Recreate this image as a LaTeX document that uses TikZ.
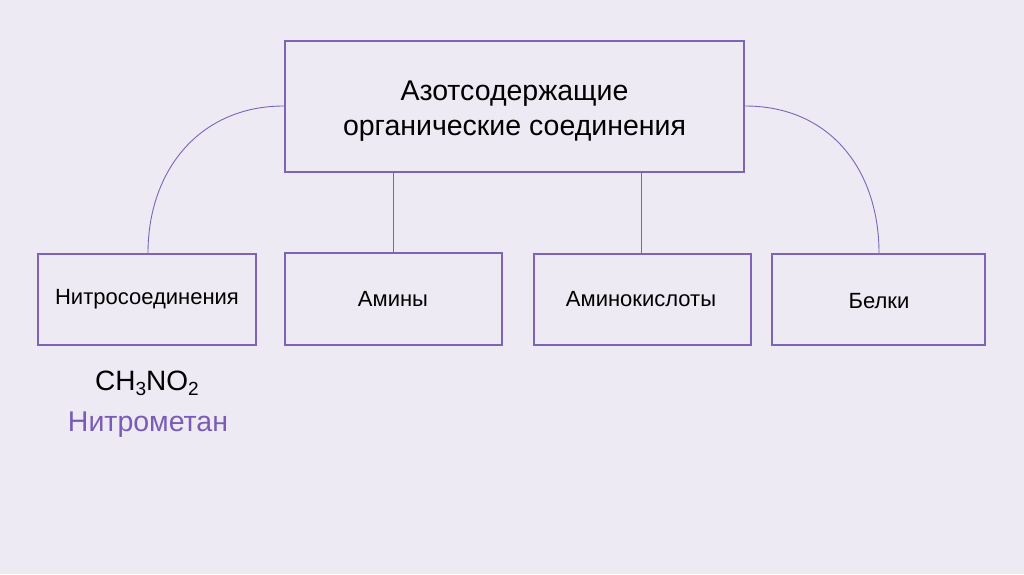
\documentclass[tikz,border=0pt]{standalone}
\usepackage{fontspec}
\setmainfont{Liberation Sans}
\definecolor{bg}{RGB}{237,234,243}
\definecolor{frame}{RGB}{125,100,182}
\definecolor{violettext}{RGB}{122,92,182}
\newcommand{\subnum}[1]{\raisebox{-5pt}{\fontsize{19}{19}\selectfont #1}}
\begin{document}
\begin{tikzpicture}[x=1pt,y=-1pt,
  box/.style={draw=frame,line width=2.4pt,fill=none,inner sep=0pt,align=center},
  lbl/.style={font=\fontsize{22}{26}\selectfont},
  link/.style={draw=frame,line width=0.9pt}]
\fill[bg] (0,0) rectangle (1024,574);
\useasboundingbox (0,0) rectangle (1024,574);
\node[box,minimum width=459pt,minimum height=131pt] (top) at (514.5,106.5) {};
\node[font=\fontsize{28.5}{35}\selectfont,align=center] (toptext) at (514.5,111) {Азотсодержащие\\органические соединения};
\node[box,minimum width=218pt,minimum height=91pt] (nitro) at (147,299.5) {};
\node[box,minimum width=217pt,minimum height=92pt] (amin) at (393.5,299) {};
\node[box,minimum width=217pt,minimum height=91pt] (amk) at (642.5,299.5) {};
\node[box,minimum width=213pt,minimum height=91pt] (belk) at (878.5,299.5) {};
\node[lbl] (t1) at (147,299) {Нитросоединения};
\node[lbl] (t2) at (393,299) {Амины};
\node[lbl] (t3) at (641,299) {Аминокислоты};
\node[lbl] (t4) at (879,301) {Белки};
\node[font=\fontsize{28}{30}\selectfont] (formula) at (147,383) {CH\subnum{3}NO\subnum{2}};
\node[font=\fontsize{28.5}{30}\selectfont,text=violettext] (name) at (148,425) {Нитрометан};
\coordinate (lA) at (top.west |- 0,106);
\coordinate (rA) at (top.east |- 0,106);
\coordinate (lB) at (148,253);
\coordinate (rB) at (879,253);
\draw[link] (lA) .. controls (200,106) and (148,170) .. (lB);
\draw[link] (rA) .. controls (830,106) and (879,170) .. (rB);
\draw[link] (top.south -| amin) -- (amin.north);
\draw[link] (top.south -| 641,0) -- (641,253);
\end{tikzpicture}
\end{document}
